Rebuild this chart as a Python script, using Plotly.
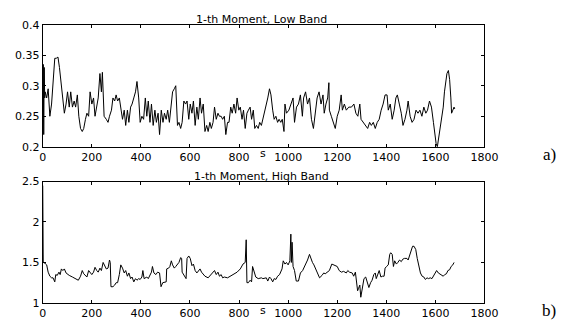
import plotly.graph_objects as go

# ---- data ----
low_s = [0, 2, 4, 6, 8, 10, 16, 22, 29, 36, 42, 49, 55, 62, 68, 75, 82, 88, 95, 101,
         108, 114, 121, 128, 134, 141, 147, 154, 161, 167, 174, 180, 187, 193, 200, 207, 213, 220, 226, 233,
         239, 243, 250, 259, 266, 272, 280, 286, 293, 299, 305, 312, 318, 325, 332, 338, 345, 351, 358, 364,
         371, 378, 384, 391, 397, 404, 411, 418, 424, 430, 437, 443, 450, 457, 463, 470, 476, 483, 490, 496,
         503, 509, 516, 522, 529, 536, 542, 549, 555, 562, 568, 575, 582, 588, 595, 601, 608, 614, 621, 628,
         634, 641, 647, 654, 661, 668, 674, 681, 687, 694, 700, 707, 714, 720, 727, 733, 740, 746, 753, 759,
         766, 772, 779, 786, 792, 799, 805, 812, 818, 825, 832, 838, 845, 851, 858, 864, 871, 878, 884, 891,
         897, 904, 911, 917, 924, 930, 937, 943, 950, 957, 963, 970, 976, 983, 987,
         993, 1003, 1013, 1020, 1026, 1034, 1042, 1050, 1058, 1063, 1071, 1079, 1087, 1095, 1103, 1111, 1118,
         1126, 1134, 1142, 1147, 1154, 1161, 1166, 1168, 1176, 1184, 1192, 1200, 1208, 1216, 1221, 1229, 1237,
         1247, 1258, 1268, 1276, 1284, 1292, 1297, 1305, 1316, 1324, 1332, 1339, 1347, 1355, 1363, 1371, 1379,
         1387, 1395, 1403, 1408, 1416, 1424, 1432, 1439, 1445, 1453, 1461, 1468, 1476, 1484, 1489, 1497, 1505,
         1513, 1521, 1529, 1537, 1545, 1553, 1561, 1568, 1576, 1584, 1592, 1597, 1603, 1608, 1613, 1621, 1626,
         1632, 1637, 1642, 1647, 1653, 1658, 1663, 1666, 1671, 1676, 1679]
low_v = [0.24, 0.335, 0.22, 0.33, 0.28, 0.29, 0.28, 0.295, 0.25, 0.27, 0.3, 0.345, 0.345, 0.347, 0.33, 0.3, 0.27, 0.255, 0.27, 0.29,
         0.265, 0.29, 0.265, 0.275, 0.265, 0.285, 0.25, 0.23, 0.225, 0.23, 0.245, 0.255, 0.25, 0.29, 0.27, 0.28, 0.25, 0.265, 0.28, 0.32,
         0.29, 0.322, 0.25, 0.245, 0.24, 0.25, 0.26, 0.28, 0.275, 0.285, 0.275, 0.28, 0.26, 0.245, 0.26, 0.235, 0.26, 0.24, 0.265, 0.27,
         0.28, 0.29, 0.307, 0.28, 0.24, 0.25, 0.245, 0.28, 0.25, 0.275, 0.24, 0.27, 0.235, 0.26, 0.24, 0.255, 0.22, 0.26, 0.24, 0.255,
         0.245, 0.26, 0.24, 0.27, 0.29, 0.295, 0.3, 0.235, 0.24, 0.23, 0.24, 0.275, 0.27, 0.275, 0.245, 0.27, 0.255, 0.275, 0.235, 0.265,
         0.245, 0.28, 0.255, 0.27, 0.225, 0.235, 0.225, 0.24, 0.23, 0.24, 0.265, 0.245, 0.255, 0.25, 0.25, 0.245, 0.25, 0.22, 0.24, 0.24,
         0.265, 0.255, 0.27, 0.255, 0.28, 0.26, 0.265, 0.245, 0.26, 0.23, 0.255, 0.26, 0.265, 0.245, 0.26, 0.23, 0.235, 0.23, 0.24, 0.235,
         0.245, 0.26, 0.27, 0.28, 0.295, 0.285, 0.26, 0.245, 0.25, 0.24, 0.245, 0.24, 0.245, 0.225, 0.27,
         0.255, 0.26, 0.27, 0.28, 0.24, 0.265, 0.27, 0.285, 0.25, 0.28, 0.29, 0.27, 0.28, 0.245, 0.23, 0.26, 0.28,
         0.29, 0.27, 0.285, 0.255, 0.27, 0.28, 0.305, 0.26, 0.25, 0.24, 0.23, 0.25, 0.26, 0.285, 0.26, 0.27, 0.26,
         0.265, 0.265, 0.27, 0.255, 0.25, 0.27, 0.245, 0.24, 0.235, 0.23, 0.24, 0.235, 0.24, 0.23, 0.24, 0.245, 0.26,
         0.27, 0.285, 0.285, 0.26, 0.27, 0.245, 0.26, 0.28, 0.285, 0.27, 0.255, 0.235, 0.245, 0.26, 0.275, 0.25, 0.24,
         0.245, 0.26, 0.255, 0.26, 0.25, 0.265, 0.255, 0.26, 0.275, 0.265, 0.24, 0.225, 0.205, 0.2, 0.215, 0.23, 0.25,
         0.265, 0.29, 0.31, 0.32, 0.325, 0.31, 0.28, 0.255, 0.26, 0.265, 0.262]

high_s = [0, 2, 9, 16, 22, 29, 36, 42, 49, 53, 59, 66, 71, 76, 82, 88, 95, 101, 108, 121,
          134, 145, 154, 161, 167, 174, 180, 187, 193, 200, 207, 213, 220, 226, 233, 239, 246, 253, 259, 266,
          272, 275, 278, 286, 293, 299, 305, 312, 318, 325, 332, 338, 345, 351, 358, 364, 371, 378, 384, 391,
          397, 404, 408, 413, 424, 430, 437, 443, 447, 453, 461, 468, 476, 482, 489, 497, 503, 505, 513, 518,
          524, 529, 536, 542, 549, 555, 562, 566, 568, 575, 584, 588, 595, 601, 608, 614, 621, 628, 634, 641,
          647, 661, 674, 687, 694, 700, 707, 714, 720, 727, 733, 740, 753, 766, 779, 792, 805, 816, 825, 829,
          832, 838, 845, 851, 855, 861, 868, 878, 891, 897, 911, 917, 924, 930, 937, 943, 950, 957, 965, 975,
          980, 987, 993, 1000, 1007, 1011, 1013, 1016, 1020, 1026, 1033, 1042, 1050, 1059, 1068, 1079, 1087, 1092, 1099, 1105,
          1112, 1118, 1128, 1138, 1145, 1151, 1161, 1168, 1178, 1184, 1191, 1200, 1208, 1217, 1226, 1237, 1243, 1250, 1261, 1267,
          1274, 1279, 1283, 1287, 1292, 1296, 1303, 1309, 1316, 1322, 1329, 1336, 1342, 1349, 1355, 1359, 1366, 1371, 1378, 1384,
          1391, 1395, 1401, 1408, 1414, 1418, 1424, 1429, 1434, 1441, 1447, 1454, 1461, 1467, 1474, 1484, 1489, 1495, 1500, 1507,
          1513, 1520, 1526, 1533, 1539, 1546, 1553, 1559, 1566, 1572, 1579, 1586, 1592, 1599, 1605, 1612, 1618, 1625, 1632, 1638,
          1645, 1651, 1658, 1664, 1671, 1676]
high_v = [2.45, 1.5, 1.49, 1.47, 1.38, 1.33, 1.31, 1.31, 1.26, 1.35, 1.34, 1.38, 1.35, 1.42, 1.4, 1.42, 1.37, 1.35, 1.34, 1.32,
          1.3, 1.28, 1.33, 1.4, 1.36, 1.33, 1.32, 1.4, 1.38, 1.35, 1.38, 1.44, 1.4, 1.38, 1.43, 1.4, 1.5, 1.45, 1.42, 1.43,
          1.53, 1.5, 1.2, 1.2, 1.22, 1.25, 1.25, 1.35, 1.47, 1.43, 1.37, 1.4, 1.33, 1.37, 1.3, 1.32, 1.26, 1.3, 1.28, 1.3,
          1.29, 1.32, 1.4, 1.3, 1.32, 1.3, 1.35, 1.38, 1.45, 1.37, 1.35, 1.38, 1.37, 1.2, 1.25, 1.26, 1.26, 1.42, 1.43, 1.45,
          1.52, 1.47, 1.43, 1.45, 1.48, 1.5, 1.56, 1.55, 1.38, 1.35, 1.3, 1.55, 1.58, 1.55, 1.46, 1.48, 1.4, 1.37, 1.4, 1.42,
          1.38, 1.33, 1.31, 1.36, 1.38, 1.4, 1.35, 1.38, 1.33, 1.35, 1.31, 1.32, 1.31, 1.33, 1.36, 1.38, 1.42, 1.48, 1.5, 1.78,
          1.25, 1.25, 1.28, 1.26, 1.45, 1.38, 1.32, 1.3, 1.31, 1.3, 1.31, 1.27, 1.32, 1.3, 1.26, 1.3, 1.29, 1.33, 1.35, 1.42,
          1.52, 1.48, 1.5, 1.47, 1.52, 1.85, 1.5, 1.75, 1.45, 1.4, 1.27, 1.27, 1.37, 1.4, 1.45, 1.53, 1.6, 1.55, 1.5, 1.47,
          1.42, 1.38, 1.31, 1.34, 1.37, 1.36, 1.39, 1.4, 1.48, 1.47, 1.46, 1.45, 1.4, 1.38, 1.39, 1.37, 1.4, 1.38, 1.37, 1.33,
          1.38, 1.28, 1.15, 1.18, 1.22, 1.07, 1.2, 1.3, 1.32, 1.27, 1.19, 1.25, 1.28, 1.35, 1.37, 1.3, 1.35, 1.4, 1.32, 1.33,
          1.33, 1.43, 1.45, 1.47, 1.6, 1.62, 1.6, 1.45, 1.52, 1.48, 1.5, 1.53, 1.51, 1.54, 1.55, 1.55, 1.53, 1.58, 1.63, 1.7,
          1.7, 1.66, 1.55, 1.45, 1.37, 1.33, 1.32, 1.29, 1.31, 1.3, 1.31, 1.3, 1.33, 1.38, 1.4, 1.37, 1.36, 1.34, 1.33, 1.35,
          1.36, 1.4, 1.41, 1.45, 1.47, 1.5]

x_ticks = [0, 200, 400, 600, 800, 1000, 1200, 1400, 1600, 1800]
low_ticks = [0.2, 0.25, 0.3, 0.35, 0.4]
high_ticks = [1, 1.5, 2, 2.5]
titles = ["1-th Moment, Low Band", "1-th Moment, High Band"]
panel_labels = ["a)", "b)"]

W, H = 575, 332
fig = go.Figure()
fig.add_trace(go.Scatter(x=low_s, y=low_v, mode="lines", line=dict(color="black", width=1),
                         xaxis="x", yaxis="y", showlegend=False, hoverinfo="skip"))
fig.add_trace(go.Scatter(x=high_s, y=high_v, mode="lines", line=dict(color="black", width=1),
                         xaxis="x2", yaxis="y2", showlegend=False, hoverinfo="skip"))

FONT = "DejaVu Sans, Arial, sans-serif"
ax_common = dict(showline=True, linecolor="black", linewidth=1, mirror="ticks", ticks="inside",
                 ticklen=3, tickcolor="black", showgrid=False, zeroline=False,
                 tickfont=dict(family=FONT, size=11, color="black"))

xd = [40 / W, 496 / W]
top_dom = [1 - 146.5 / H, 1 - 19.5 / H]
bot_dom = [1 - 309 / H, 1 - 182.7 / H]

fig.update_layout(
    width=W, height=H, margin=dict(l=0, r=0, t=0, b=0),
    paper_bgcolor="white", plot_bgcolor="white",
    xaxis=dict(domain=xd, range=[0, 1800], tickvals=x_ticks, anchor="y", **ax_common),
    yaxis=dict(domain=top_dom, range=[0.2, 0.4], tickvals=low_ticks, anchor="x", **ax_common),
    xaxis2=dict(domain=xd, range=[0, 1800], tickvals=x_ticks, anchor="y2", **ax_common),
    yaxis2=dict(domain=bot_dom, range=[1, 2.5], tickvals=high_ticks, anchor="x2", **ax_common),
)

ann = []
for t, yc in zip(titles, [14.5, 177]):
    ann.append(dict(text=t, x=266 / W, y=1 - yc / H, xref="paper", yref="paper",
                    xanchor="center", yanchor="middle", showarrow=False,
                    font=dict(family=FONT, size=11, color="black")))
for yc in [153, 316.5]:
    ann.append(dict(text="s", x=267 / W, y=1 - yc / H, xref="paper", yref="paper",
                    xanchor="center", yanchor="middle", showarrow=False,
                    font=dict(family=FONT, size=11, color="black")))
for t, yc in zip(panel_labels, [155, 317]):
    ann.append(dict(text=t, x=563 / W, y=1 - yc / H, xref="paper", yref="paper",
                    xanchor="center", yanchor="middle", showarrow=False,
                    font=dict(family="Liberation Serif, Times New Roman, serif", size=17, color="black")))
fig.update_layout(annotations=ann)

fig.write_html(
    "out.html",
    config={"displayModeBar": False, "staticPlot": True},
    post_script=("document.documentElement.style.margin='0';"
                 "document.body.style.margin='0';"
                 "document.documentElement.style.overflow='hidden';"
                 "document.body.style.overflow='hidden';"),
)
